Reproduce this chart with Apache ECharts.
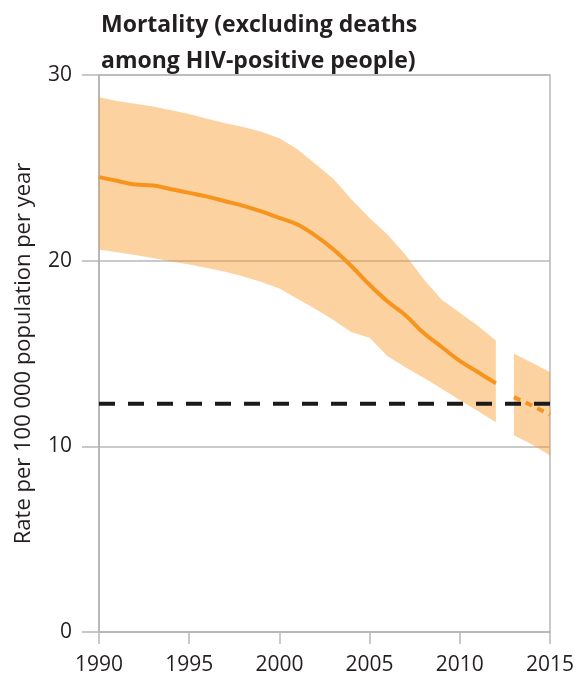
<!DOCTYPE html>
<html>
<head>
<meta charset="utf-8">
<script src="https://cdn.jsdelivr.net/npm/echarts@6/dist/echarts.min.js"></script>
<style>
  html, body { margin: 0; padding: 0; background: #fff; }
  #chart { width: 577px; height: 678px; }
</style>
</head>
<body>
<div id="chart"></div>
<script>
// Estimated TB mortality (excluding HIV-positive deaths), rate per 100 000 per year
const years1 = [1990, 1991, 1992, 1993, 1994, 1995, 1996, 1997, 1998, 1999, 2000,
                2001, 2002, 2003, 2004, 2005, 2006, 2007, 2008, 2009, 2010, 2011, 2012];
const rate1  = [24.5, 24.3, 24.1, 24.05, 23.85, 23.65, 23.45, 23.2, 22.95, 22.65, 22.3,
                21.95, 21.35, 20.6, 19.7, 18.7, 17.8, 17.05, 16.1, 15.35, 14.6, 14.0, 13.4];
const low1   = [20.6, 20.45, 20.3, 20.15, 19.95, 19.8, 19.6, 19.4, 19.15, 18.85, 18.5,
                17.95, 17.4, 16.8, 16.15, 15.85, 14.85, 14.25, 13.7, 13.1, 12.5, 11.9, 11.3];
const high1  = [28.8, 28.6, 28.45, 28.3, 28.1, 27.9, 27.65, 27.4, 27.2, 26.95, 26.6,
                26.0, 25.2, 24.4, 23.3, 22.3, 21.4, 20.3, 19.0, 17.9, 17.2, 16.5, 15.7];

// Projection segment
const years2 = [2013, 2014, 2015];
const rate2  = [12.65, 12.2, 11.7];
const low2   = [10.6, 10.1, 9.5];
const high2  = [15.0, 14.5, 14.0];

// Milestone target level
const targetYears = [1990, 2015];
const targetRate  = [12.3, 12.3];

const xTicks = [1990, 1995, 2000, 2005, 2010, 2015];
const yTicks = [0, 10, 20, 30];

const BAND = 'rgba(247,148,29,0.42)';
const LINE = '#f7941d';
const GRID = '#b8b8b8';
const TEXT = '#231f20';
const FONT = '"Open Sans", "Liberation Sans", Arial, sans-serif';

const pairs = (xs, ys) => xs.map((x, i) => [x, ys[i]]);

// Uncertainty interval drawn as one filled polygon between the low and high bounds
function bandSeries(xs, lo, hi) {
  return {
    type: 'custom',
    data: pairs(xs, lo),
    encode: { x: 0, y: 1 },
    silent: true,
    z: 1,
    renderItem: (params, api) => {
      if (params.dataIndex !== 0) return null;
      const top = xs.map((x, i) => api.coord([x, hi[i]]));
      const bottom = xs.map((x, i) => api.coord([x, lo[i]])).reverse();
      return {
        type: 'polygon',
        shape: { points: top.concat(bottom) },
        style: { fill: BAND }
      };
    }
  };
}

const chart = echarts.init(document.getElementById('chart'), null, { renderer: 'canvas' });

chart.setOption({
  animation: false,
  backgroundColor: '#fff',
  title: {
    text: 'Mortality (excluding deaths\namong HIV-positive people)',
    left: 96,
    top: 2,
    textStyle: { fontFamily: FONT, fontSize: 23, fontWeight: 'bold', color: TEXT, lineHeight: 36 }
  },
  grid: {
    left: 99, right: 27, top: 75, bottom: 46,
    show: true, borderColor: GRID, borderWidth: 1.5, backgroundColor: 'transparent'
  },
  xAxis: {
    type: 'value',
    min: xTicks[0], max: xTicks[xTicks.length - 1], interval: 5,
    axisLine: { show: true, onZero: false, lineStyle: { color: GRID, width: 2 } },
    axisTick: { show: true, length: 12, lineStyle: { color: GRID, width: 1.5 } },
    axisLabel: {
      margin: 23, color: TEXT, fontFamily: FONT, fontSize: 21,
      formatter: v => String(v)
    },
    splitLine: { show: false }
  },
  yAxis: {
    type: 'value',
    min: yTicks[0], max: yTicks[yTicks.length - 1], interval: 10,
    name: 'Rate per 100 000 population per year',
    nameLocation: 'middle',
    nameGap: 64,
    nameTextStyle: { fontFamily: FONT, fontSize: 22, color: TEXT },
    axisLine: { show: true, lineStyle: { color: GRID, width: 2 } },
    axisTick: { show: true, length: 17, lineStyle: { color: GRID, width: 1.5 } },
    axisLabel: { margin: 27, color: TEXT, fontFamily: FONT, fontSize: 21 },
    splitLine: { show: true, lineStyle: { color: GRID, width: 1.5 } }
  },
  series: [
    bandSeries(years1, low1, high1),
    bandSeries(years2, low2, high2),
    // central estimate
    {
      type: 'line', data: pairs(years1, rate1),
      symbol: 'none', smooth: 0.4,
      lineStyle: { color: LINE, width: 4 }, z: 3
    },
    {
      type: 'line', data: pairs(years2, rate2),
      symbol: 'none',
      lineStyle: { color: LINE, width: 4, type: [7, 6] }, z: 3
    },
    // target
    {
      type: 'line', data: pairs(targetYears, targetRate),
      symbol: 'none',
      lineStyle: { color: '#1a1a1a', width: 4, type: [16, 13] }, z: 4
    }
  ]
});
</script>
</body>
</html>
